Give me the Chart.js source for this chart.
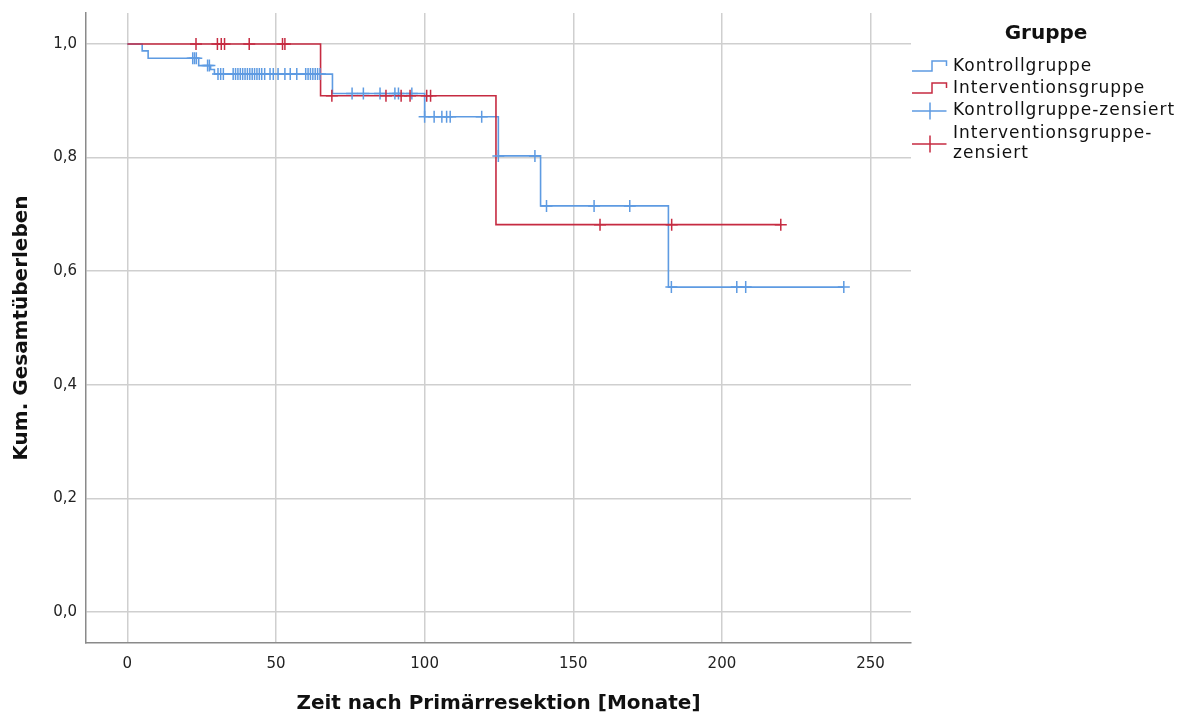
<!DOCTYPE html>
<html>
<head>
<meta charset="utf-8">
<script src="https://cdn.jsdelivr.net/npm/chart.js@4.4.1/dist/chart.umd.min.js"></script>
<style>
html, body { margin: 0; padding: 0; background: #fff; }
#wrap { width: 1185px; height: 714px; }
</style>
</head>
<body>
<div id="wrap"><canvas id="km"></canvas></div>
<script>
// Kaplan-Meier Stufen (Monate / kum. Überleben)
var kontrollZeit = [0, 5, 7, 24, 28, 29.3, 69, 100, 124.8, 139, 182, 241];
var kontrollUeberleben = [1, 0.988, 0.975, 0.962, 0.955, 0.947, 0.913, 0.872, 0.803, 0.715, 0.572, 0.572];
var kontrollZensiert = [22, 22.6, 23.2, 27, 27.6, 30.5, 31.4, 32.3, 35.6, 36.4, 37.2, 38, 38.8, 39.6,
    40.4, 41.2, 42, 42.8, 43.6, 44.4, 45.2, 46.2, 48, 49.1, 50.7, 53, 54.8, 57, 60, 60.8, 61.6, 62.4,
    63.2, 64, 64.8, 75.6, 79.4, 85, 90, 91.2, 95.7, 100, 103.2, 105.8, 107.4, 108.6, 119.2, 124.8,
    137.1, 141, 157, 169, 183, 205, 208, 241];

var interventionZeit = [0, 65, 124, 220];
var interventionUeberleben = [1, 0.909, 0.682, 0.682];
var interventionZensiert = [23.1, 30.3, 31.6, 32.7, 41, 52.2, 53, 68.8, 87, 92.1, 95.1, 100.7, 102,
    159, 183.1, 219.8];

var xTicks = [0, 50, 100, 150, 200, 250];
var yTicks = [0, 0.2, 0.4, 0.6, 0.8, 1.0];

var blau = '#5e9be2';
var rot = '#c62b41';

function stufen(t, s) {
    return t.map(function (v, i) { return { x: v, y: s[i] }; });
}
function wertBei(t, s, x) {
    var y = s[0];
    for (var i = 0; i < t.length; i++) if (t[i] <= x) y = s[i];
    return y;
}
function zensiert(t, s, c) {
    return c.map(function (v) { return { x: v, y: wertBei(t, s, v) }; });
}

var legendeEintraege = [
    { text: ['Kontrollgruppe'], farbe: blau, art: 'stufe', y: 67 },
    { text: ['Interventionsgruppe'], farbe: rot, art: 'stufe', y: 89 },
    { text: ['Kontrollgruppe-zensiert'], farbe: blau, art: 'kreuz', y: 111 },
    { text: ['Interventionsgruppe-', 'zensiert'], farbe: rot, art: 'kreuz', y: 144 }
];

var gruppeLegende = {
    id: 'gruppeLegende',
    afterDraw: function (chart) {
        var ctx = chart.ctx;
        ctx.save();
        ctx.fillStyle = '#111';
        ctx.font = 'bold 20px "DejaVu Sans"';
        ctx.textAlign = 'center';
        ctx.textBaseline = 'middle';
        ctx.fillText('Gruppe', 1046, 34);

        ctx.font = '17px "DejaVu Sans"';
        ctx.textAlign = 'left';
        if ('letterSpacing' in ctx) ctx.letterSpacing = '1px';
        legendeEintraege.forEach(function (e) {
            var y = e.y;
            ctx.strokeStyle = e.farbe;
            ctx.lineWidth = 1.5;
            ctx.beginPath();
            if (e.art === 'stufe') {
                ctx.moveTo(912, y + 4);
                ctx.lineTo(932, y + 4);
                ctx.lineTo(932, y - 6);
                ctx.lineTo(946.5, y - 6);
                ctx.lineTo(946.5, y - 1);
            } else {
                ctx.moveTo(912, y);
                ctx.lineTo(946.5, y);
                ctx.moveTo(930, y - 8.5);
                ctx.lineTo(930, y + 8.5);
            }
            ctx.stroke();
            var n = e.text.length;
            e.text.forEach(function (zeile, i) {
                ctx.fillText(zeile, 953, y + (i - (n - 1) / 2) * 20);
            });
        });
        ctx.restore();
    }
};

new Chart(document.getElementById('km'), {
    type: 'scatter',
    data: {
        datasets: [
            {
                label: 'Interventionsgruppe-zensiert',
                data: zensiert(interventionZeit, interventionUeberleben, interventionZensiert),
                pointStyle: 'cross', pointRadius: 6, pointBorderWidth: 1.5,
                borderColor: rot, backgroundColor: rot, showLine: false
            },
            {
                label: 'Kontrollgruppe-zensiert',
                data: zensiert(kontrollZeit, kontrollUeberleben, kontrollZensiert),
                pointStyle: 'cross', pointRadius: 6, pointBorderWidth: 1.5,
                borderColor: blau, backgroundColor: blau, showLine: false
            },
            {
                label: 'Interventionsgruppe',
                data: stufen(interventionZeit, interventionUeberleben),
                showLine: true, stepped: true, borderColor: rot, borderWidth: 1.6,
                pointRadius: 0, fill: false
            },
            {
                label: 'Kontrollgruppe',
                data: stufen(kontrollZeit, kontrollUeberleben),
                showLine: true, stepped: true, borderColor: blau, borderWidth: 1.6,
                pointRadius: 0, fill: false
            }
        ]
    },
    options: {
        responsive: true,
        maintainAspectRatio: false,
        animation: false,
        layout: { padding: { top: 13, right: 274, left: 0, bottom: 0 } },
        plugins: {
            legend: { display: false },
            tooltip: { enabled: false }
        },
        scales: {
            x: {
                type: 'linear',
                min: -13.9, max: 263.6,
                afterFit: function (s) { s.height = 71; s.paddingLeft = 0; s.paddingRight = 0; },
                afterBuildTicks: function (s) { s.ticks = xTicks.map(function (v) { return { value: v }; }); },
                ticks: {
                    padding: 12, color: '#222',
                    font: { family: 'DejaVu Sans', size: 15 },
                    callback: function (v) { return String(v); }
                },
                grid: { color: '#cfcfcf', lineWidth: 1.5, drawTicks: false },
                border: { display: true, color: '#8a8a8a', width: 1.5 },
                title: {
                    display: true, text: 'Zeit nach Primärresektion [Monate]', color: '#111',
                    font: { family: 'DejaVu Sans', size: 20, weight: 'bold', lineHeight: 1.05 },
                    padding: { top: 0, bottom: 0 }
                }
            },
            y: {
                type: 'linear',
                min: -0.0546, max: 1.0546,
                afterFit: function (s) { s.width = 86; s.paddingTop = 0; s.paddingBottom = 0; },
                afterBuildTicks: function (s) { s.ticks = yTicks.map(function (v) { return { value: v }; }); },
                ticks: {
                    padding: 9, color: '#222',
                    font: { family: 'DejaVu Sans', size: 15 },
                    callback: function (v) { return v.toFixed(1).replace('.', ','); }
                },
                grid: { color: '#cfcfcf', lineWidth: 1.5, drawTicks: false },
                border: { display: true, color: '#8a8a8a', width: 1.5 },
                title: {
                    display: true, text: 'Kum. Gesamtüberleben', color: '#111',
                    font: { family: 'DejaVu Sans', size: 20, weight: 'bold', lineHeight: 1.2 },
                    padding: { top: 10, bottom: 0 }
                }
            }
        }
    },
    plugins: [gruppeLegende]
});
</script>
</body>
</html>
